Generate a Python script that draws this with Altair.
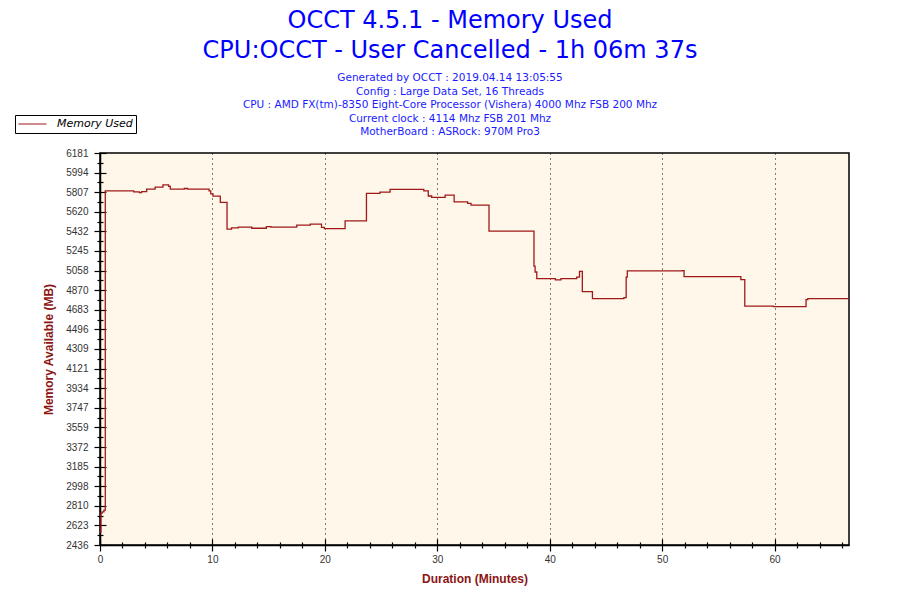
import altair as alt
import pandas as pd

# Sample times (minutes) and memory values (MB); each value holds until the next time
minutes = [0.00, 0.08, 0.20, 0.35, 0.47, 3.00, 3.50, 3.70, 4.15, 4.90, 5.60, 6.10, 6.25,
           7.50, 7.80, 9.70, 9.85, 10.05, 10.70, 11.30, 11.70, 12.30, 13.50, 14.80, 15.20,
           17.50, 18.70, 19.70, 19.95, 21.80, 23.70, 24.90, 25.80, 28.80, 29.20, 29.50,
           30.70, 31.50, 32.70, 33.00, 34.60, 38.60, 38.70, 38.85, 40.50, 41.00, 42.40,
           42.65, 42.90, 43.80, 46.60, 46.80, 46.90, 51.80, 51.95, 57.00, 57.35, 59.90,
           62.80, 62.95, 66.62]
memory = [2560, 2740, 2752, 2770, 5820, 5810, 5803, 5812, 5836, 5855, 5877, 5862, 5836,
          5842, 5836, 5820, 5790, 5769, 5709, 5453, 5466, 5472, 5462, 5478, 5472,
          5491, 5501, 5470, 5458, 5533, 5795, 5808, 5833, 5820, 5770, 5757,
          5779, 5715, 5699, 5683, 5434, 5100, 5044, 4981, 4968, 4981, 4996,
          5051, 4856, 4789, 4799, 4996, 5054, 5058, 5000, 4971, 4719, 4713,
          4780, 4789, 4789]

x_ticks = [0, 10, 20, 30, 40, 50, 60]
y_ticks = [2436, 2623, 2810, 2998, 3185, 3372, 3559, 3747, 3934, 4121, 4309,
           4496, 4683, 4870, 5058, 5245, 5432, 5620, 5807, 5994, 6181]

title_lines = ["OCCT 4.5.1 - Memory Used", "CPU:OCCT - User Cancelled - 1h 06m 37s"]
subtitle_lines = [
    "Generated by OCCT : 2019.04.14 13:05:55",
    "Config : Large Data Set, 16 Threads",
    "CPU : AMD FX(tm)-8350 Eight-Core Processor (Vishera) 4000 Mhz FSB 200 Mhz",
    "Current clock : 4114 Mhz FSB 201 Mhz",
    "MotherBoard : ASRock: 970M Pro3",
]
series_name = "Memory Used"

df = pd.DataFrame({"minutes": minutes, "memory": memory, "series": series_name})

x_minor = [v for v in range(0, 67, 2) if v % 10 != 0]
y_minor = [(a + b) / 2 for a, b in zip(y_ticks[:-1], y_ticks[1:])]

xscale = alt.Scale(domain=[0, 66.62], nice=False, zero=False)
yscale = alt.Scale(domain=[2436, 6181], nice=False, zero=False)

LABEL_FONT = "Liberation Sans"
AXIS_TITLE_COLOR = "#8B1414"

main = alt.Chart(df).mark_line(interpolate="step-after", strokeWidth=1.3).encode(
    x=alt.X("minutes:Q", scale=xscale,
            axis=alt.Axis(orient="bottom", values=x_ticks, title="Duration (Minutes)",
                          ticks=False, tickSize=0, labelPadding=9, labelFlush=False,
                          grid=True, gridColor="black", gridDash=[1, 4], gridWidth=1,
                          gridOpacity=1, domainColor="black", domainWidth=1.5,
                          labelFont=LABEL_FONT, labelFontSize=10, labelColor="#333333",
                          titleFont=LABEL_FONT, titleFontSize=12, titleFontWeight="bold",
                          titleColor=AXIS_TITLE_COLOR, titlePadding=9)),
    y=alt.Y("memory:Q", scale=yscale,
            axis=alt.Axis(orient="left", values=y_ticks, format="d", title="Memory Available (MB)",
                          ticks=False, tickSize=0, labelPadding=12, labelFlush=False,
                          grid=False, domainColor="black", domainWidth=1.5,
                          labelFont=LABEL_FONT, labelFontSize=10, labelColor="#333333",
                          titleFont=LABEL_FONT, titleFontSize=12, titleFontWeight="bold",
                          titleColor=AXIS_TITLE_COLOR, titlePadding=10)),
    color=alt.Color("series:N", scale=alt.Scale(range=["#A01818"]),
                    legend=alt.Legend(orient="none", legendX=-85, legendY=-38, title=None,
                                      symbolType="stroke", symbolSize=784, symbolStrokeWidth=1,
                                      clipHeight=12, padding=3, labelOffset=10,
                                      strokeColor="black", fillColor="white",
                                      labelFont="DejaVu Sans", labelFontStyle="italic",
                                      labelFontSize=11, labelColor="black")),
)

def tick_layer(xvals, yvals, size, off):
    return alt.Chart(df).mark_line(strokeOpacity=0).encode(
        x=alt.X("minutes:Q", scale=xscale,
                axis=alt.Axis(orient="bottom", values=xvals, labels=False, domain=False,
                              grid=False, ticks=True, tickSize=size, offset=off,
                              tickColor="black", tickWidth=1.2, title=None)),
        y=alt.Y("memory:Q", scale=yscale,
                axis=alt.Axis(orient="left", values=yvals, labels=False, domain=False,
                              grid=False, ticks=True, tickSize=size, offset=off,
                              tickColor="black", tickWidth=1.2, title=None)),
    )

major = tick_layer(x_ticks, y_ticks, 12, -6)
minor = tick_layer(x_minor, y_minor, 6, -3)

chart = alt.layer(main, major, minor).resolve_axis(
    x="independent", y="independent"
).properties(
    width=749, height=392,
    autosize=alt.AutoSizeParams(type="none"),
    padding={"left": 92, "top": 145, "right": 43, "bottom": 47},
    title=alt.TitleParams(text=title_lines, subtitle=subtitle_lines, anchor="middle",
                          frame="group", dx=-24.5, offset=-23,
                          font="DejaVu Sans", fontSize=24, fontWeight="normal",
                          color="#0000FF", lineHeight=30,
                          subtitleFont="DejaVu Sans", subtitleFontSize=10.5,
                          subtitleColor="#1a1aff", subtitleLineHeight=13.5,
                          subtitlePadding=10),
).configure(background="white").configure_view(
    fill="#FFF8EA", stroke="black", strokeWidth=1.5
)

chart.save("out.html", embed_options={"renderer": "svg", "actions": False})
